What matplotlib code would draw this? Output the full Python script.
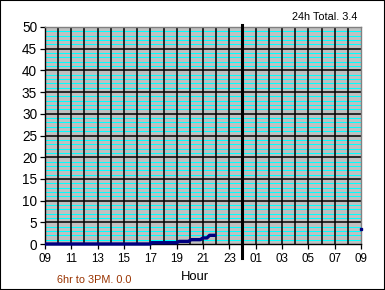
import numpy as np, matplotlib
matplotlib.use('Agg')
import matplotlib.pyplot as plt
from matplotlib.patches import Rectangle

plt.rcParams['font.family'] = ['Liberation Sans', 'DejaVu Sans']

# cumulative rain (hours since 09:00 of day 1, running on past 24)
HOURS = [9, 17.0, 17.1, 19.0, 19.2, 19.9, 20.1, 20.8, 21.0, 21.3, 21.5, 22.0]
RAIN = [0, 0, 0.3, 0.3, 0.6, 0.6, 1.0, 1.0, 1.4, 1.4, 2.0, 2.0]
LAST_HOUR, LAST_RAIN = 33, 3.4
TOTAL_24H = 3.4
RAIN_6_TO_3 = 0.0

XTICKS = list(range(9, 34, 2))
XLABELS = ['%02d' % (h % 24) for h in XTICKS]
YTICKS = list(range(0, 51, 5))

fig = plt.figure(figsize=(3.85, 2.90), dpi=100)
fig.patch.set_facecolor('white')
fig.patches.append(Rectangle((0, 0), 1, 1, transform=fig.transFigure,
                             fill=False, edgecolor='black', linewidth=1.5))
ax = fig.add_axes([45/385, 1 - 244/290, 316/385, 217/290])
ax.set_facecolor('#C0C0C0')
ax.set_xlim(9, 33)
ax.set_ylim(0, 50)

# cyan minor lines every unit, black every 5
for v in range(1, 50):
    if v % 5:
        ax.axhline(v, color='#00FFFF', linewidth=0.75, zorder=1)
for v in YTICKS[1:-1]:
    ax.axhline(v, color='black', linewidth=1.1, zorder=2)
for h in range(10, 33):
    ax.axvline(h, color='black', linewidth=1.1, zorder=2)

# midnight marker
ax.plot([24, 24], [-0.064, 1.01], color='black', linewidth=2.2,
        transform=ax.get_xaxis_transform(), clip_on=False, zorder=4)

ax.plot(HOURS, RAIN, color='#000080', linewidth=2.4, zorder=5,
        solid_capstyle='butt', clip_on=False)
ax.plot([LAST_HOUR], [LAST_RAIN], 's', color='#000080', markersize=2.0,
        zorder=5, clip_on=False)

ax.set_xticks(XTICKS)
ax.set_xticklabels(XLABELS, fontsize=8.4)
ax.set_yticks(YTICKS)
ax.set_yticklabels([str(v) for v in YTICKS], fontsize=9.8)
ax.tick_params(direction='out', length=3.6, width=0.9, colors='black', pad=2)
ax.tick_params(axis='x', pad=3)
for s in ['top', 'right']:
    ax.spines[s].set_color('#808080')
for s in ['left', 'bottom']:
    ax.spines[s].set_color('black')
for s in ax.spines.values():
    s.set_linewidth(1.0)

fig.text(195/385, 1 - 277/290, 'Hour', fontsize=9.4, ha='center', va='center')
fig.text(57/385, 1 - 280/290, '6hr to 3PM. %.1f' % RAIN_6_TO_3, fontsize=7.8,
         color='#993300', ha='left', va='center')
fig.text(357/385, 1 - 17/290, '24h Total. %.1f' % TOTAL_24H, fontsize=7.8,
         ha='right', va='center')

fig.savefig('out.png', dpi=100, facecolor='white')
plt.close(fig)
